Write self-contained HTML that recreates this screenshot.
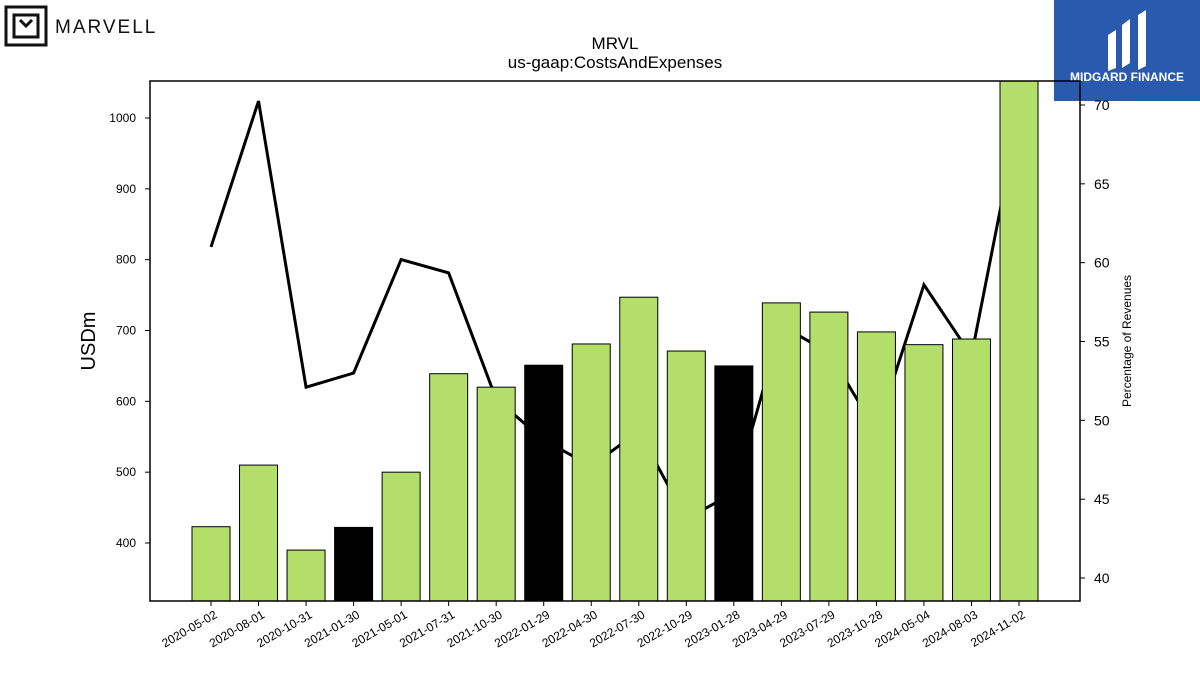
<!DOCTYPE html>
<html><head><meta charset="utf-8"><style>
body{margin:0;background:#fff;font-family:"Liberation Sans",sans-serif}
svg text{font-family:"Liberation Sans",sans-serif}
</style></head><body>
<svg id="c" width="1200" height="675" xmlns="http://www.w3.org/2000/svg">
<g>
<rect x="6" y="7" width="40" height="38" fill="none" stroke="#111" stroke-width="3"/>
<path d="M14 15h24v22h-24z M20 20l6 6 6-6" fill="none" stroke="#111" stroke-width="3"/>
<text x="55" y="33" font-size="19" letter-spacing="2" fill="#111">MARVELL</text>
</g>
<g>
<rect x="1054" y="0" width="146" height="101" fill="#2a5aad"/>
<path d="M1108 35l8-5v38l-8 3z M1122 25l8-6v44l-8 5z M1138 15l8-5v56l-8 4z" fill="#fff"/>
<text x="1127" y="81" font-size="12" font-weight="bold" fill="#fff" text-anchor="middle">MIDGARD FINANCE</text>
</g>
<text x="615" y="49" font-size="17" text-anchor="middle">MRVL</text>
<text x="615" y="68" font-size="17" text-anchor="middle">us-gaap:CostsAndExpenses</text>
<defs><clipPath id="pc"><rect x="150" y="81" width="930" height="520"/></clipPath></defs>
<g id="line" clip-path="url(#pc)"></g>
<g id="bars" clip-path="url(#pc)"></g>
<rect x="150" y="81" width="930" height="520" fill="none" stroke="#000" stroke-width="1.5"/>
<g id="axes"></g>
<text transform="translate(95,341) rotate(-90)" font-size="20" text-anchor="middle">USDm</text>
<text transform="translate(1131,341) rotate(-90)" font-size="12" text-anchor="middle">Percentage of Revenues</text>
</svg>
<script>
const categories=["2020-05-02","2020-08-01","2020-10-31","2021-01-30","2021-05-01","2021-07-31","2021-10-30","2022-01-29","2022-04-30","2022-07-30","2022-10-29","2023-01-28","2023-04-29","2023-07-29","2023-10-28","2024-05-04","2024-08-03","2024-11-02"];
const costs=[423,510,390,422,500,639,620,651,681,747,671,650,739,726,698,680,688,1060];
const pct=[61.0,70.25,52.1,53.0,60.2,59.35,51.35,48.75,47.1,49.3,43.75,45.4,56.0,54.3,49.3,58.6,54.1,69.4];
const highlight=[3,7,11];
const leftTicks=[400,500,600,700,800,900,1000];
const rightTicks=[40,45,50,55,60,65,70];
const NS="http://www.w3.org/2000/svg";
const yL=v=>543-(v-400)*0.70833;
const yR=v=>105+(70-v)*15.767;
const xC=i=>211+i*47.53;
const bottom=601;
function mk(t,a,p){const e=document.createElementNS(NS,t);for(const k in a)e.setAttribute(k,a[k]);p.appendChild(e);return e;}
const bars=document.getElementById('bars'),ax=document.getElementById('axes'),ln=document.getElementById('line');
let d="";
pct.forEach((v,i)=>{d+=(i?"L":"M")+xC(i)+" "+yR(v);});
const pl=mk('path',{d:d,fill:'none',stroke:'#000','stroke-width':3},ln);


costs.forEach((v,i)=>{
 const y=yL(v);
 const r=mk('rect',{x:xC(i)-19,y:y,width:38,height:bottom-y,fill:highlight.includes(i)?'#000':'#b3de69',stroke:'#000','stroke-width':1},bars);
 
 
 mk('line',{x1:xC(i),x2:xC(i),y1:bottom,y2:bottom+5,stroke:'#000'},ax);
 const t=mk('text',{transform:`translate(${xC(i)+7},${bottom+16}) rotate(-30)`,'font-size':12,'text-anchor':'end'},ax);
 t.textContent=categories[i];
 
 
});
leftTicks.forEach(v=>{
 mk('line',{x1:145,x2:150,y1:yL(v),y2:yL(v),stroke:'#000'},ax);
 const t=mk('text',{x:136,y:yL(v)+4,'font-size':12,'text-anchor':'end'},ax);
 t.textContent=v;
 
 
});
rightTicks.forEach(v=>{
 mk('line',{x1:1080,x2:1085,y1:yR(v),y2:yR(v),stroke:'#000'},ax);
 const t=mk('text',{x:1094,y:yR(v)+5,'font-size':14},ax);
 t.textContent=v;
 
 
});
</script>
</body></html>
